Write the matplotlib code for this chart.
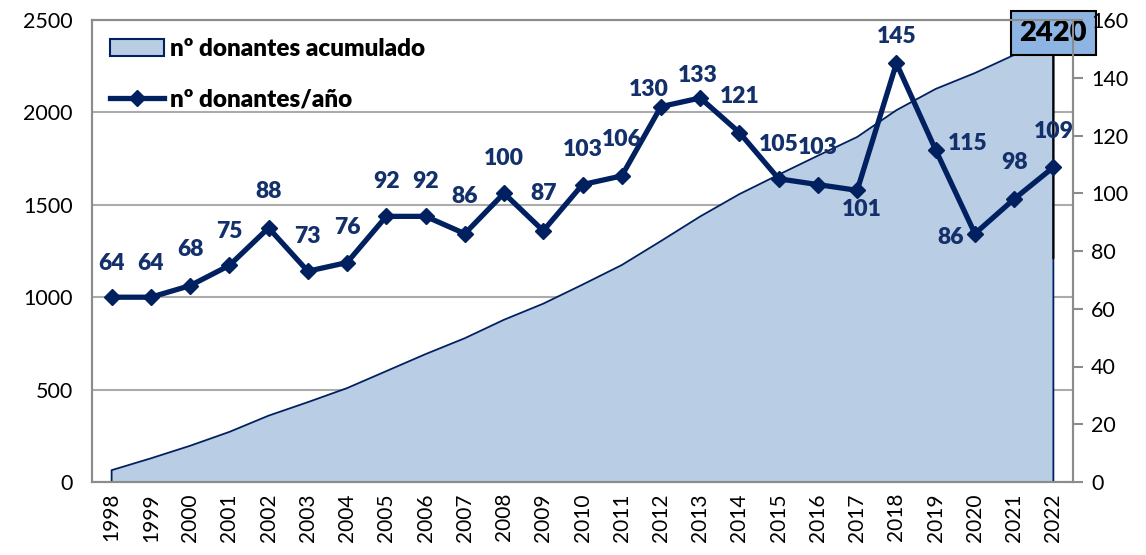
import matplotlib
matplotlib.use("Agg")
import matplotlib.pyplot as plt
import numpy as np
from matplotlib.patches import Patch
from matplotlib.lines import Line2D

years = ["1998", "1999", "2000", "2001", "2002", "2003", "2004", "2005", "2006",
         "2007", "2008", "2009", "2010", "2011", "2012", "2013", "2014", "2015",
         "2016", "2017", "2018", "2019", "2020", "2021", "2022"]
donantes_anio = [64, 64, 68, 75, 88, 73, 76, 92, 92, 86, 100, 87, 103, 106,
                 130, 133, 121, 105, 103, 101, 145, 115, 86, 98, 109]
donantes_acumulado = [64, 128, 196, 271, 359, 432, 508, 600, 692, 778, 878, 965,
                      1068, 1174, 1304, 1437, 1558, 1663, 1766, 1867, 2012, 2127,
                      2213, 2311, 2420]
left_ticks = [0, 500, 1000, 1500, 2000, 2500]
right_ticks = [0, 20, 40, 60, 80, 100, 120, 140, 160]
legend_labels = ["nº donantes acumulado", "nº donantes/año"]

# label offsets in pixels (style only)
label_offsets = [(0, 34), (0, 34), (0, 36), (0, 34), (0, 36), (0, 35), (0, 35),
                 (0, 35), (0, 35), (0, 37), (0, 35), (0, 37), (0, 35), (0, 36),
                 (-12, 17), (-2, 22), (0, 36), (0, 34), (0, 37), (5, -19),
                 (0, 27), (32, 6), (-24, -4), (0, 37), (0, 36)]

FONT = "Lato"
plt.rcParams["font.family"] = [FONT, "DejaVu Sans"]

NAVY = "#002060"
LABEL = "#13306B"
AREA = "#B9CDE5"
GRID = "#ABABAB"
SPINE = "#8C8C8C"

fig = plt.figure(figsize=(11.46, 5.55), dpi=100)
ax = fig.add_axes([92 / 1146, 73 / 555, 981 / 1146, 462 / 555])
ax2 = ax.twinx()

x = np.arange(len(years))
cum = np.array(donantes_acumulado)

ax.set_zorder(1)
ax2.set_zorder(2)
ax2.patch.set_visible(False)

ax.fill_between(x, 0, cum, color=AREA, linewidth=0, zorder=2)
ax.plot(np.r_[x[0], x, x[-1]], np.r_[0, cum, 0], color=NAVY, lw=1.3, zorder=3,
        solid_joinstyle="miter")

ax.set_xlim(-0.5, len(years) - 0.5)
ax.set_ylim(left_ticks[0], left_ticks[-1])
ax.set_yticks(left_ticks)
ax.yaxis.grid(True, color=GRID, lw=1.5, zorder=1)
ax.set_axisbelow(True)
ax.set_xticks(x)
ax.set_xticklabels(years, rotation=90, fontsize=15)
ax.tick_params(axis="x", length=0, pad=8)
ax.tick_params(axis="y", length=0, pad=14, labelsize=15.5)

ax2.set_ylim(right_ticks[0], right_ticks[-1])
ax2.set_yticks(right_ticks)
ax2.tick_params(axis="y", length=7, width=1.5, color=SPINE, pad=6, labelsize=15.5)

for a in (ax, ax2):
    for s in a.spines.values():
        s.set_color(SPINE)
        s.set_linewidth(1.5)

ax2.plot(x, donantes_anio, color=NAVY, lw=3.8, marker="D", ms=8.5,
         mec=NAVY, mfc=NAVY, zorder=4, solid_joinstyle="miter")

for xi, v, (dx, dy) in zip(x, donantes_anio, label_offsets):
    ax2.annotate(str(v), xy=(xi, v), xytext=(dx, dy), textcoords="offset pixels",
                 ha="center", va="center", fontsize=16.5, fontweight="heavy",
                 color=LABEL, zorder=6)

# total annotation box with leader line
ax.annotate(str(cum[-1]), xy=(x[-1], cum[-1] / 2), xycoords="data",
            xytext=(x[-1], 0.972), textcoords=("data", "axes fraction"),
            ha="center", va="center", fontsize=21, fontweight="heavy",
            color="black", zorder=10, annotation_clip=False,
            bbox=dict(boxstyle="square,pad=0.3", fc="#8DB4E2", ec="black", lw=1.5),
            arrowprops=dict(arrowstyle="-", color="black", lw=1.5,
                            shrinkA=0, shrinkB=0))

handles = [Patch(facecolor=AREA, edgecolor=NAVY, lw=1.5),
           Line2D([0], [0], color=NAVY, lw=3.8, marker="D", ms=8.5)]
leg = ax2.legend(handles, legend_labels, loc="upper left",
                 bbox_to_anchor=(0.0, 1.0), frameon=False,
                 prop={"family": [FONT, "DejaVu Sans"], "weight": "heavy", "size": 17.5},
                 handlelength=2.2, handleheight=0.7, handletextpad=0.25,
                 labelspacing=1.15, borderaxespad=0.3, borderpad=0.45)
leg.set_zorder(8)

fig.savefig("out.png", dpi=100)
